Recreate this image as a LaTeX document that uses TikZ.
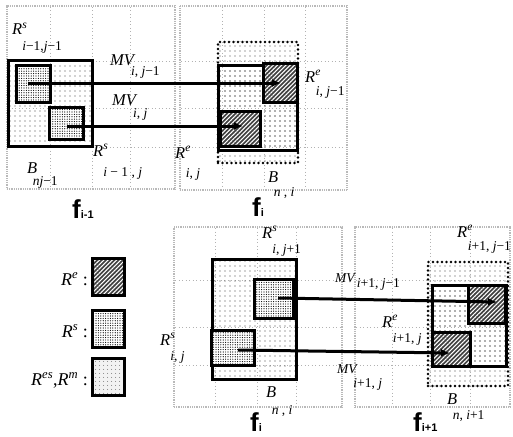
\documentclass[tikz,border=0pt]{standalone}
\usepackage{fontspec}
\setmainfont{Liberation Serif}
\setsansfont{Liberation Sans}
\usetikzlibrary{arrows.meta,patterns.meta}

% label with a big, deep subscript: main, superscript, subscript, drop
\newcommand{\sublbl}[4]{\textit{#1}\textsuperscript{\itshape #2}\kern-5pt\lower#4\hbox{\fontsize{13.5}{14}\selectfont #3}}
\newcommand{\vi}{\textit{i}}
\newcommand{\vj}{\textit{j}}
\newcommand{\vn}{\textit{n}}

\begin{document}
\begin{tikzpicture}[x=1pt,y=-1pt,
    frm/.style={draw=gray!55,line width=1.8pt,dash pattern=on 1pt off 0.8pt,inner sep=0pt,outer sep=0pt,anchor=north west},
    gridln/.style={draw=gray!60,line width=0.7pt,dash pattern=on 1pt off 2.5pt},
    blk/.style={inner sep=0pt,outer sep=0pt,anchor=north west},
    bsolid/.style={blk,draw,line width=3pt,pattern={Dots[distance=5pt,radius=0.55pt]},pattern color=black!75},
    bdots/.style={blk,draw,line width=2.8pt,dash pattern=on 0pt off 4.5pt,line cap=round,pattern={Dots[distance=5pt,radius=0.55pt]},pattern color=black!75},
    reblk/.style={blk,draw,line width=3pt,preaction={fill=black!75},pattern={Lines[angle=45,distance=3pt,line width=1pt]},pattern color=white},
    rsblk/.style={blk,draw,line width=3pt,preaction={fill=white},pattern={Dots[distance=2.4pt,radius=0.6pt]},pattern color=black},
    rmblk/.style={blk,draw,line width=3pt,preaction={fill=gray!10},pattern={Dots[distance=4pt,radius=0.5pt]},pattern color=black!70},
    mv/.style={line width=3pt,-{Latex[length=9pt,width=8pt]}},
    lbl/.style={font=\fontsize{16.5}{18}\selectfont,inner sep=0pt,anchor=base west},
    flbl/.style={font=\sffamily\bfseries\fontsize{26}{28}\selectfont,inner sep=0pt,anchor=base west}
]
\useasboundingbox (0,0) rectangle (513,436);

% frames
\node[frm,minimum width=168,minimum height=183] (F1) at (7,6)     {};
\node[frm,minimum width=167,minimum height=184] (F2) at (180,6)   {};
\node[frm,minimum width=168,minimum height=180] (F3) at (174,227) {};
\node[frm,minimum width=155,minimum height=180] (F4) at (355,227) {};

% block grids
\foreach \x in {50,92,130,222,264,305} \draw[gridln] (\x,7) -- (\x,189);
\foreach \y in {61,108,147} {
  \draw[gridln] (8,\y) -- (174,\y);
  \draw[gridln] (181,\y) -- (346,\y);
}
\foreach \x in {215,257,296,392,430,470} \draw[gridln] (\x,228) -- (\x,406);
\foreach \y in {280,327,365} {
  \draw[gridln] (175,\y) -- (341,\y);
  \draw[gridln] (356,\y) -- (509,\y);
}

% frame f_{i-1}
\node[bsolid,minimum width=84,minimum height=86] (B1)  at (8,60)   {};
\node[rsblk,minimum width=34,minimum height=37]  (Rs1) at (16,65)  {};
\node[rsblk,minimum width=34,minimum height=32]  (Rs2) at (49,107) {};

% frame f_i (top)
\node[bdots,minimum width=80,minimum height=121] (B2)  at (218,42)  {};
\node[bsolid,minimum width=79,minimum height=85] (M2)  at (218,65)  {};
\node[reblk,minimum width=34,minimum height=39]  (Re1) at (263,63)  {};
\node[reblk,minimum width=40,minimum height=35]  (Re2) at (220,111) {};

% frame f_i (bottom)
\node[bsolid,minimum width=84,minimum height=120] (B3)  at (212,259) {};
\node[rsblk,minimum width=39,minimum height=39]   (Rs3) at (254,279) {};
\node[rsblk,minimum width=43,minimum height=35]   (Rs4) at (211,330) {};

% frame f_{i+1}
\node[bdots,minimum width=80,minimum height=124] (B4)  at (428,262) {};
\node[bsolid,minimum width=74,minimum height=81] (M4)  at (432,285) {};
\node[reblk,minimum width=37,minimum height=38]  (Re3) at (468,285) {};
\node[reblk,minimum width=38,minimum height=34]  (Re4) at (432,332) {};

% motion vectors
\coordinate (s1) at (28,83);   \coordinate (e1) at (281,83);
\coordinate (s2) at (67,126);  \coordinate (e2) at (243,126);
\coordinate (s3) at (278,298); \coordinate (e3) at (497,302);
\coordinate (s4) at (238,350); \coordinate (e4) at (450,353);
\draw[mv] (s1) -- (e1);
\draw[mv] (s2) -- (e2);
\draw[mv] (s3) -- (e3);
\draw[mv] (s4) -- (e4);

% labels, top
\node[lbl] (lRs1) at (12,35)   {\sublbl{R}{s}{\vi−1,\vj−1}{16pt}};
\node[lbl] (lMV1) at (110,65)  {\sublbl{MV}{}{\vi, \vj−1}{10pt}};
\node[lbl] (lMV2) at (112,105) {\sublbl{MV}{}{\vi, \vj}{12pt}};
\node[lbl] (lRs2) at (93,156)  {\sublbl{R}{s}{\vi\ −\ 1\ ,\ \vj}{20pt}};
\node[lbl] (lB1)  at (27,173)  {\sublbl{B}{}{\vn\vj−1}{12pt}};
\node[lbl] (lRe1) at (175,158) {\sublbl{R}{e}{\vi, \vj}{19pt}};
\node[lbl] (lRe2) at (305,82)  {\sublbl{R}{e}{\vi, \vj−1}{13pt}};
\node[lbl] (lB2)  at (268,182) {\sublbl{B}{}{\vn\ ,\ \vi}{14pt}};
\node[flbl] (lf1) at (72,218)  {f{\fontsize{11}{12}\selectfont i-1}};
\node[flbl] (lf2) at (252,216) {f{\fontsize{11}{12}\selectfont i}};

% labels, bottom
\node[lbl] (lRs3) at (262,238) {\sublbl{R}{s}{\vi, \vj+1}{15pt}};
\node[lbl] (lRe3) at (457,237) {\sublbl{R}{e}{\vi+1, \vj−1}{13pt}};
\node[lbl,font=\fontsize{13.5}{15}\selectfont] (lMV3) at (335,282) {\textit{MV}\kern1pt\lower5pt\hbox{\vi+1, \vj−1}};
\node[lbl] (lRe4) at (382,327) {\sublbl{R}{e}{\vi+1, \vj}{15pt}};
\node[lbl,font=\fontsize{13.5}{15}\selectfont] (lMV4) at (337,373) {\sublbl{MV}{}{\vi+1, \vj}{14pt}};
\node[lbl] (lRs4) at (160,345) {\sublbl{R}{s}{\vi, \vj}{15pt}};
\node[lbl] (lB3)  at (266,397) {\sublbl{B}{}{\vn\ ,\ \vi}{17pt}};
\node[lbl] (lB4)  at (447,404) {\sublbl{B}{}{\vn, \vi+1}{15pt}};
\node[flbl] (lf3) at (250,431) {f{\fontsize{11}{12}\selectfont i}};
\node[flbl] (lf4) at (413,431) {f{\fontsize{11}{12}\selectfont i+1}};

% legend
\node[reblk,minimum width=32,minimum height=37] (kRe) at (92,258) {};
\node[rsblk,minimum width=32,minimum height=37] (kRs) at (92,310) {};
\node[rmblk,minimum width=32,minimum height=37] (kRm) at (92,358) {};
\node[lbl,anchor=base east,font=\fontsize{18}{20}\selectfont] (lkRe) at (88,285) {\textit{R}\textsuperscript{\itshape e} :};
\node[lbl,anchor=base east,font=\fontsize{18}{20}\selectfont] (lkRs) at (88,337) {\textit{R}\textsuperscript{\itshape s} :};
\node[lbl,anchor=base east,font=\fontsize{18}{20}\selectfont] (lkRm) at (88,385) {\textit{R}\textsuperscript{\itshape es},\textit{R}\textsuperscript{\itshape m} :};
\end{tikzpicture}
\end{document}
